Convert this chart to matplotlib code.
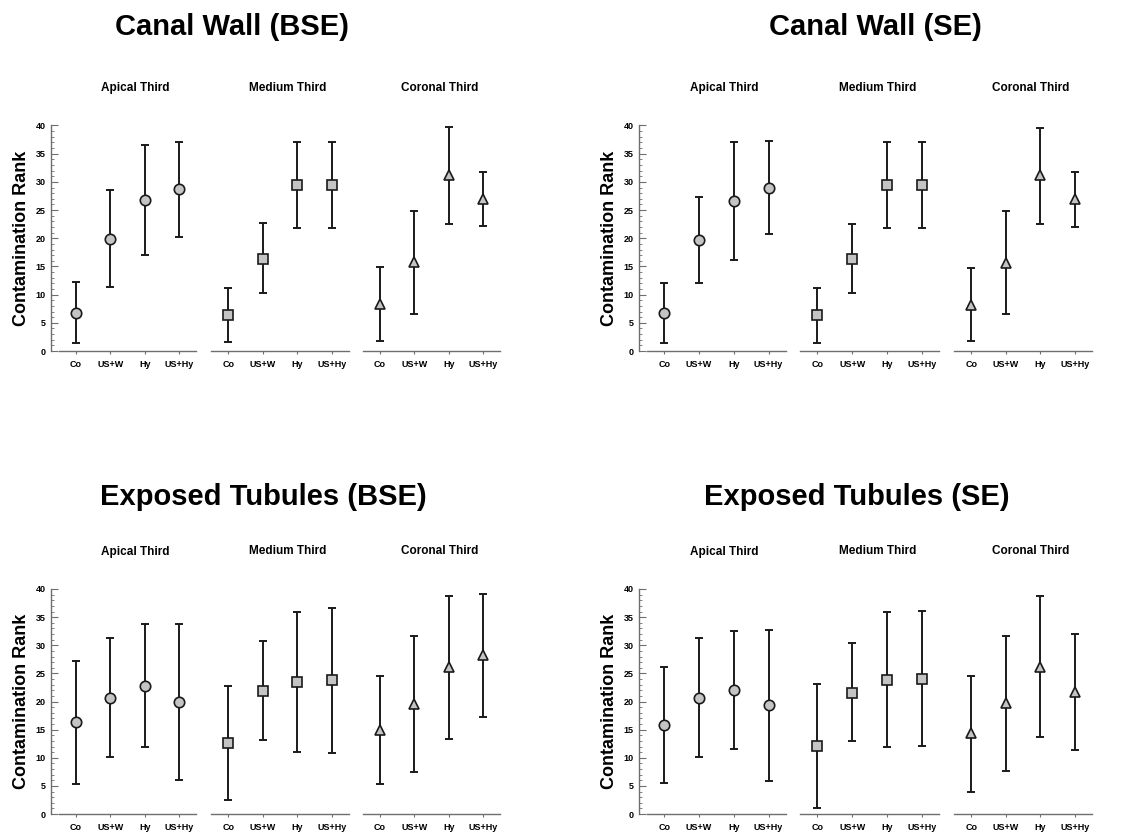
import matplotlib
matplotlib.use("Agg")
import matplotlib.pyplot as plt
from matplotlib.ticker import MultipleLocator
import numpy as np

plt.rcParams['font.family'] = ['Liberation Sans', 'DejaVu Sans']

groups = ["Co", "US+W", "Hy", "US+Hy"]
thirds = ["Apical Third", "Medium Third", "Coronal Third"]
panel_titles = ["Canal Wall (BSE)", "Canal Wall (SE)", "Exposed Tubules (BSE)", "Exposed Tubules (SE)"]
y_ticks = [0, 5, 10, 15, 20, 25, 30, 35, 40]

# values: apical (4), medium (4), coronal (4)
cw_bse_mean = [6.8, 19.9, 26.7, 28.7, 6.4, 16.4, 29.4, 29.4, 8.3, 15.7, 31.2, 26.9]
cw_bse_low = [1.5, 11.3, 17.1, 20.2, 1.6, 10.3, 21.9, 21.9, 1.7, 6.6, 22.6, 22.1]
cw_bse_high = [12.2, 28.6, 36.5, 37.1, 11.2, 22.7, 37.1, 37.1, 14.9, 24.9, 39.7, 31.7]

cw_se_mean = [6.8, 19.7, 26.6, 29.0, 6.4, 16.4, 29.4, 29.4, 8.2, 15.6, 31.2, 26.9]
cw_se_low = [1.4, 12.0, 16.2, 20.8, 1.5, 10.2, 21.9, 21.9, 1.7, 6.5, 22.5, 22.0]
cw_se_high = [12.1, 27.3, 37.0, 37.3, 11.2, 22.6, 37.0, 37.0, 14.8, 24.8, 39.6, 31.7]

et_bse_mean = [16.3, 20.7, 22.8, 19.9, 12.6, 21.9, 23.4, 23.8, 15.0, 19.6, 26.1, 28.2]
et_bse_low = [5.3, 10.2, 12.0, 6.1, 2.5, 13.1, 11.0, 10.8, 5.3, 7.4, 13.4, 17.3]
et_bse_high = [27.2, 31.3, 33.7, 33.8, 22.7, 30.7, 35.9, 36.6, 24.6, 31.7, 38.7, 39.2]

et_se_mean = [15.8, 20.7, 22.1, 19.4, 12.1, 21.6, 23.9, 24.0, 14.4, 19.7, 26.2, 21.7]
et_se_low = [5.5, 10.1, 11.5, 5.9, 1.1, 12.9, 11.9, 12.1, 4.0, 7.7, 13.7, 11.3]
et_se_high = [26.2, 31.3, 32.6, 32.7, 23.1, 30.4, 36.0, 36.1, 24.6, 31.7, 38.8, 32.0]

panels = [
    (cw_bse_mean, cw_bse_low, cw_bse_high),
    (cw_se_mean, cw_se_low, cw_se_high),
    (et_bse_mean, et_bse_low, et_bse_high),
    (et_se_mean, et_se_low, et_se_high),
]

W, H = 1135, 836
fig = plt.figure(figsize=(W / 100, H / 100), dpi=100)

# layout in pixels
x_groups_left = [(59, 196), (211, 349), (363, 500)]
x_groups_right = [(647, 786), (800, 939), (954, 1092)]
y_rows = [(351, 125.5), (814, 589)]  # (y of 0, y of 40)
title_pos = [(232, 27), (875, 27), (263, 497), (857, 497)]

markers = ["o", "s", "^"]
msizes = [7.5, 6.8, 7.5]
line_col = "#1a1a1a"
axis_col = "#6e6e6e"
fill_col = "#c4c4c4"

for p, (mean, low, high) in enumerate(panels):
    row = p // 2
    col = p % 2
    xg = x_groups_left if col == 0 else x_groups_right
    y0, y40 = y_rows[row]
    bottom = (H - y0) / H
    height = (y0 - y40) / H
    for t in range(3):
        x1, x2 = xg[t]
        ax = fig.add_axes([x1 / W, bottom, (x2 - x1) / W, height])
        m = np.array(mean[t * 4:(t + 1) * 4])
        lo = np.array(low[t * 4:(t + 1) * 4])
        hi = np.array(high[t * 4:(t + 1) * 4])
        xs = np.arange(4)
        ax.errorbar(xs, m, yerr=[m - lo, hi - m], fmt="none", ecolor=line_col,
                    elinewidth=1.4, capsize=3.0, capthick=1.4, clip_on=False, zorder=2)
        ax.plot(xs, m, linestyle="none", marker=markers[t], markersize=msizes[t],
                markerfacecolor=fill_col, markeredgecolor=line_col,
                markeredgewidth=1.2, clip_on=False, zorder=3)
        ax.set_xlim(-0.5, 3.5)
        ax.set_ylim(0, 40)
        ax.set_xticks(xs)
        ax.set_xticklabels(groups, fontsize=6.5, fontweight="bold")
        ax.tick_params(axis="x", direction="out", length=2.5, width=0.8,
                       color=axis_col, pad=4)
        for s in ["top", "right"]:
            ax.spines[s].set_visible(False)
        ax.spines["bottom"].set_color(axis_col)
        ax.spines["bottom"].set_linewidth(1.0)
        if t == 0:
            ax.spines["left"].set_position(("outward", 5.8))
            ax.spines["left"].set_color(axis_col)
            ax.spines["left"].set_linewidth(1.0)
            ax.set_yticks(y_ticks)
            ax.set_yticklabels([str(v) for v in y_ticks], fontsize=6.5, fontweight="bold")
            ax.yaxis.set_minor_locator(MultipleLocator(1))
            ax.tick_params(axis="y", which="major", direction="in", length=5,
                           width=0.8, color=axis_col, pad=4)
            ax.tick_params(axis="y", which="minor", direction="in", length=2.5,
                           width=0.6, color=axis_col)
            ax.set_ylabel("Contamination Rank", fontsize=13, fontweight="bold",
                          labelpad=4)
        else:
            ax.spines["left"].set_visible(False)
            ax.set_yticks([])
        ax.patch.set_alpha(0)
        fig.text(((x1 + x2) / 2 + 8) / W, (H - (y40 - 34.5)) / H, thirds[t],
                 ha="center", va="baseline", fontsize=8.5, fontweight="bold")
    tx, ty = title_pos[p]
    fig.text(tx / W, (H - ty) / H, panel_titles[p], ha="center", va="center",
             fontsize=21, fontweight="bold")

fig.savefig("out.png", dpi=100)
